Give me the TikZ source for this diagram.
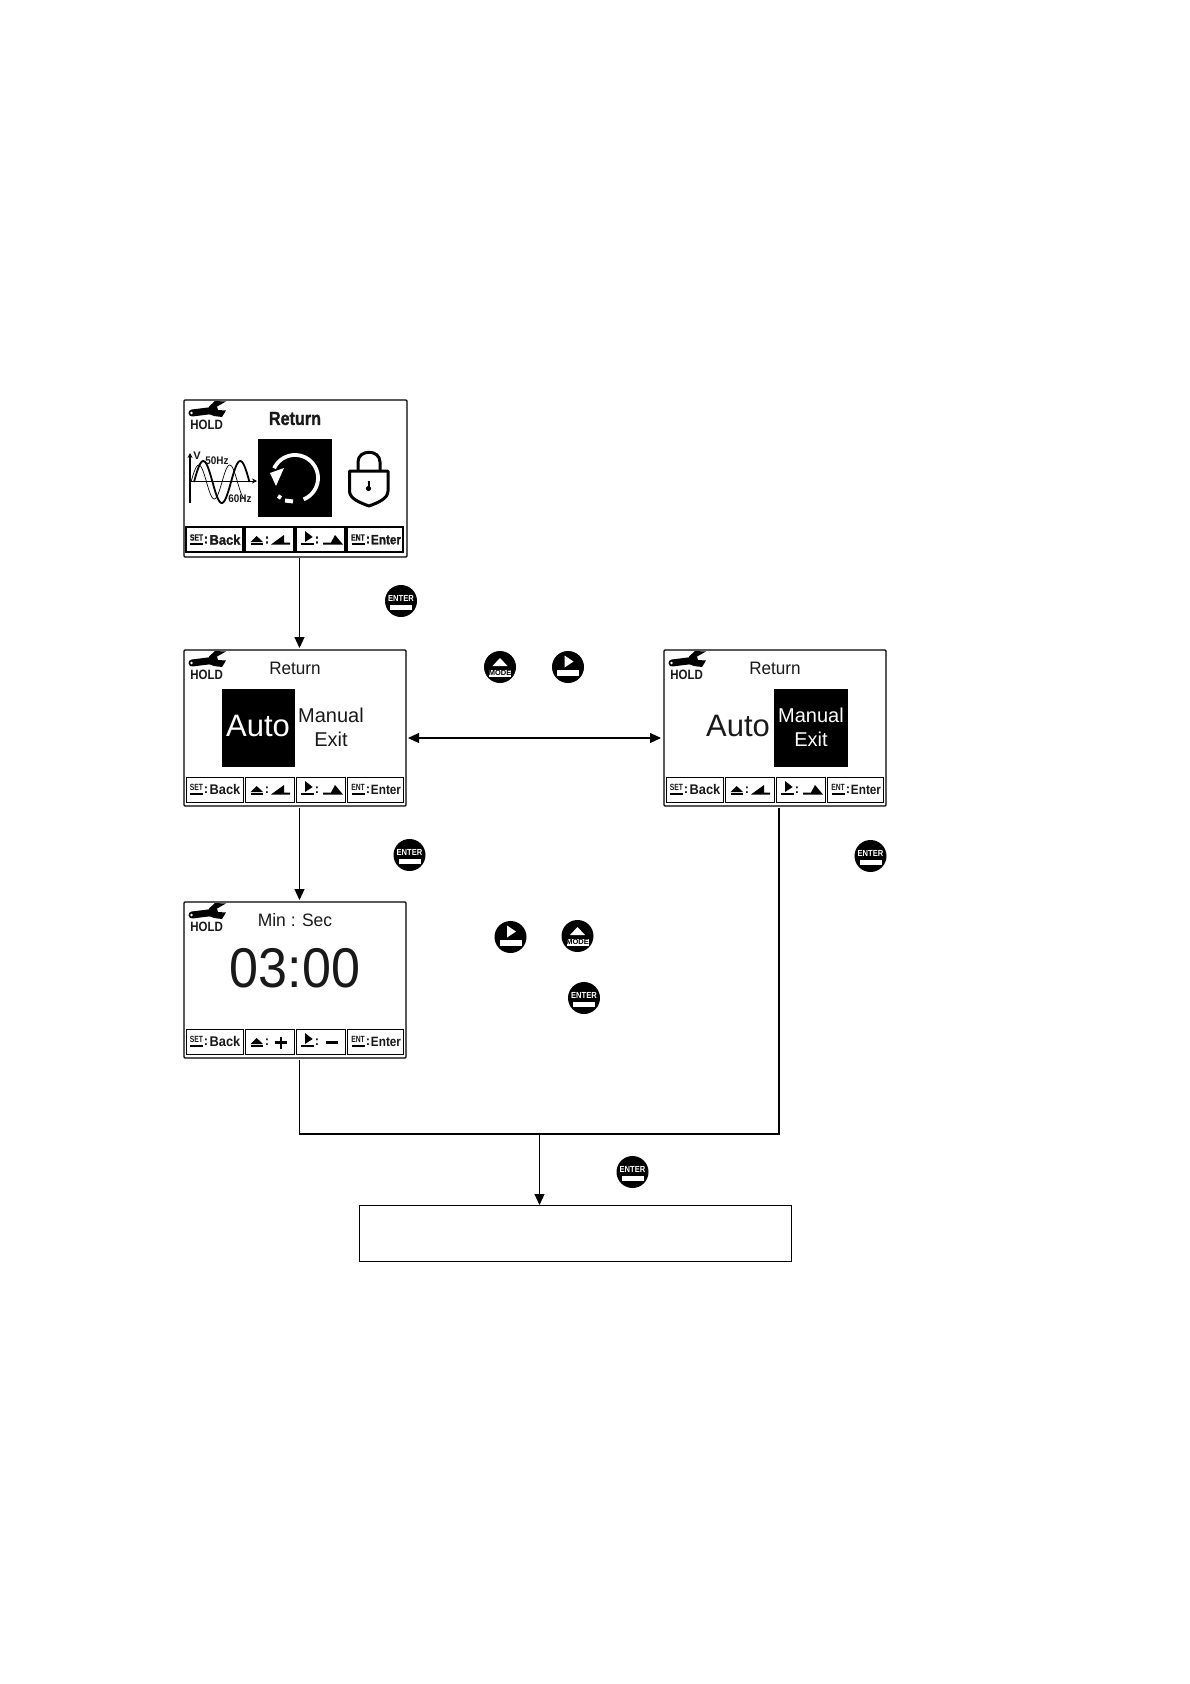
\documentclass[tikz,border=0pt]{standalone}
\usepackage{fontspec}
\setmainfont{Liberation Sans}
\newfontfamily\heavyfont[FakeBold=1.2]{Liberation Sans Bold}
\usetikzlibrary{arrows.meta}
\newcommand{\fs}[1]{\fontsize{#1}{#1}\selectfont}
\tikzset{
  x=1pt,y=-1pt,
  txt/.style={inner sep=0,outer sep=0,text=black!90},
  screenbox/.style={draw=black,line width=1.3pt,rounded corners=1pt,inner sep=0,outer sep=0,anchor=north west,fill=white},
  keybox/.style={draw=black,line width=0.7pt},
  conn/.style={draw=black,line width=1.1pt},
  arr/.style={conn,-{Triangle[length=11pt,width=10pt]}},
  darr/.style={conn,{Triangle[length=11pt,width=10pt]}-{Triangle[length=11pt,width=10pt]}},
  btn/.style={circle,fill=black,minimum size=32pt,inner sep=0,outer sep=0},
  flowbox/.style={draw=black,line width=1pt,inner sep=0,outer sep=0,anchor=north west,minimum width=432pt,minimum height=56pt},
}
% wrench + HOLD, in screen coordinates
\newcommand{\holdicon}{%
  \draw[line width=7pt,line cap=round] (8,13) -- (28,10.5);
  \fill (25,6.5) -- (31,1) -- (42,1.5) -- (33,6.5) -- (34,10) -- (42,10.5) -- (38,17) -- (30,16) -- (25,14) -- cycle;
  \fill[white] (7.5,13) circle[radius=1.3pt];
  \node[txt,font=\bfseries\fs{13.5}] at (22.7,25) {\scalebox{.85}[1]{HOLD}};
}
% soft keys: #1 = font for the words, #2 = line width, #3 = third and fourth drawing
\newcommand{\keys}[3]{%
  \draw[keybox,line width=#2] (2,127) rectangle (59,152);
  \draw[keybox,line width=#2] (61,127) rectangle (110,152);
  \draw[keybox,line width=#2] (112,127) rectangle (161,152);
  \draw[keybox,line width=#2] (163,127) rectangle (219,152);
  \node[txt,font=#1\fs{7.5}] at (12.5,137.5) {\scalebox{.9}[1.2]{SET}};
  \fill (6,143) rectangle (19,144.5);
  \node[txt,font=#1\fs{13}] at (22,140) {:};
  \node[txt,font=#1\fs{14}] at (41,139.7) {\scalebox{.92}[1]{Back}};
  \fill (66.5,142) -- (72.7,136) -- (78.9,142) -- cycle;
  \fill (66.5,143) rectangle (78.9,144.6);
  \node[txt,font=#1\fs{13}] at (83,140) {:};
  \fill (121,131) -- (128.7,137) -- (121,142) -- cycle;
  \fill (117,143) rectangle (130,144.6);
  \node[txt,font=#1\fs{13}] at (133,140) {:};
  \node[txt,font=#1\fs{7.5}] at (174,137.5) {\scalebox{.9}[1.2]{ENT}};
  \fill (168,143) rectangle (180.5,144.5);
  \node[txt,font=#1\fs{13}] at (184,140) {:};
  \node[txt,font=#1\fs{13.5}] at (202,139.7) {\scalebox{.87}[1]{Enter}};
  #3
}
\newcommand{\wedges}{%
  \fill (87,144.5) -- (100,135) -- (100,142.5) -- (106,142.5) -- (106,144.5) -- cycle;
  \fill (139,142.5) -- (147,142.5) -- (151,135) -- (159,144.5) -- (139,144.5) -- cycle;
}
\newcommand{\plusminus}{%
  \draw[line width=2.2pt] (91,140.5) -- (103,140.5) (97,134.5) -- (97,146.5);
  \draw[line width=2.2pt] (141.5,140.5) -- (154,140.5);
}
\newcommand{\enterbtn}[3]{%
  \node[btn] (#1) at (#2,#3) {};
  \node[txt,text=white,font=\bfseries\fs{8}] at (#2,#3-3) {\scalebox{.95}[1.1]{ENTER}};
  \fill[white] (#2-11,#3+3.5) rectangle (#2+11,#3+9);
}
\newcommand{\modebtn}[3]{%
  \node[btn] (#1) at (#2,#3) {};
  \fill[white] (#2-7.5,#3-1) -- (#2,#3-9) -- (#2+7.5,#3-1) -- cycle;
  \fill[white] (#2-11,#3+3) rectangle (#2+11,#3+9.5);
  \node[txt,text=black,font=\bfseries\fs{7.5}] at (#2,#3+6.3) {MODE};
}
\newcommand{\playbtn}[3]{%
  \node[btn] (#1) at (#2,#3) {};
  \fill[white] (#2-3.5,#3-11.5) -- (#2+5.5,#3-5.5) -- (#2-3.5,#3+.5) -- cycle;
  \fill[white] (#2-11,#3+3) rectangle (#2+11,#3+9);
}
\begin{document}
\begin{tikzpicture}
\useasboundingbox (0,0) rectangle (1190,1684);

% Screen 1
\node[screenbox,minimum width=223pt,minimum height=157pt] (s1) at (184,400) {};
\begin{scope}[shift={(184,400)}]
  \holdicon
  \keys{\heavyfont}{1.1pt}{\wedges}
\end{scope}
\node[txt,font=\heavyfont\fs{19}] (s1title) at (295,418.5) {\scalebox{.85}[1]{Return}};
\fill (258,439) rectangle (332,517);
\draw[white,line width=3.8pt] plot[smooth,domain=-155:68,samples=50] ({295+23*cos(\x)},{478+23*sin(\x)});
\fill[white] (270,473) -- (284,468) -- (276,486) -- cycle;
\draw[white,line width=4pt] (293,501.5) -- (285,500.5);
\draw[white,line width=4pt] (281,498) -- (278,496);
% wave
\draw[line width=1.3pt,-{Stealth[length=5pt,width=5pt]}] (190,503) -- (190,453);
\draw[line width=.8pt,-{Stealth[length=5pt,width=5pt]}] (190,481) -- (257,481);
\draw[line width=1.8pt] plot[domain=0:540,samples=60] ({194+\x/360*37},{482-21*sin(\x)});
\draw[line width=.7pt] plot[domain=0:640,samples=60] ({191+\x/360*31},{482-17*sin(\x)});
\node[txt,font=\bfseries\fs{11}] at (197,456) {V};
\node[txt,font=\bfseries\fs{11}] at (217,461) {\scalebox{.9}[1]{50Hz}};
\node[txt,font=\bfseries\fs{11}] at (240,499) {\scalebox{.9}[1]{60Hz}};
% lock
\draw[line width=3pt,line join=round] (349.5,471) -- (388,471) -- (388,491) .. controls (388,499) and (377,503) .. (369,506) .. controls (361,503) and (349.5,499) .. (349.5,491) -- cycle;
\draw[line width=3pt] (358,471) -- (358,462) .. controls (358,449) and (380,449) .. (380,462) -- (380,471);
\fill (368.5,488.5) circle[radius=2.6pt];
\draw[line width=2pt] (368.5,488) -- (368.5,481);

% Screen 2
\node[screenbox,minimum width=222pt,minimum height=156pt] (s2) at (184,650) {};
\begin{scope}[shift={(184,650)}]
  \holdicon
  \keys{\bfseries}{0.7pt}{\wedges}
\end{scope}
\node[txt,font=\fs{18}] (s2title) at (295,668.5) {\scalebox{.95}[1]{Return}};
\fill (222,689) rectangle (295,767);
\node[txt,text=white,font=\fs{31}] (s2auto) at (258,726) {Auto};
\node[txt,font=\fs{20}] (s2manual) at (331,715.5) {Manual};
\node[txt,font=\fs{20}] (s2exit) at (331,739) {Exit};

% Screen 3
\node[screenbox,minimum width=222pt,minimum height=156pt] (s3) at (184,902) {};
\begin{scope}[shift={(184,902)}]
  \holdicon
  \keys{\bfseries}{0.7pt}{\plusminus}
\end{scope}
\node[txt,font=\fs{18}] (s3title) at (295,920) {\scalebox{.97}[1]{Min : Sec}};
\node[txt,font=\fs{56}] (s3time) at (295,968.5) {\scalebox{.93}[1]{03:00}};

% Screen 4
\node[screenbox,minimum width=222pt,minimum height=156pt] (s4) at (664,650) {};
\begin{scope}[shift={(664,650)}]
  \holdicon
  \keys{\bfseries}{0.7pt}{\wedges}
\end{scope}
\node[txt,font=\fs{18}] (s4title) at (775,668.5) {\scalebox{.95}[1]{Return}};
\fill (774,689) rectangle (848,767);
\node[txt,font=\fs{31}] (s4auto) at (738,726) {Auto};
\node[txt,text=white,font=\fs{20}] (s4manual) at (811,715.5) {Manual};
\node[txt,text=white,font=\fs{20}] (s4exit) at (811,739) {Exit};

% Final box
\node[flowbox] (final) at (359,1205) {};

% Buttons
\enterbtn{b1}{401}{601}
\modebtn{b2}{500}{667}
\playbtn{b3}{568}{667}
\enterbtn{b4}{409.5}{855}
\enterbtn{b5}{870.5}{856}
\playbtn{b6}{510.5}{937}
\modebtn{b7}{577.5}{936}
\enterbtn{b8}{584}{998}
\enterbtn{b9}{632.5}{1172}

% Connectors
\draw[arr,shorten <=1pt,shorten >=2pt] ([xshift=4pt]s1.south) -- ([xshift=4.5pt]s2.north);
\draw[arr,shorten <=2pt,shorten >=2pt] ([xshift=4.5pt]s2.south) -- ([xshift=4.5pt]s3.north);
\draw[darr,shorten <=2pt,shorten >=3pt] ([yshift=-10pt]s2.east) -- ([yshift=-10pt]s4.west);
\coordinate (j) at (539.5,1134);
\draw[conn,shorten <=2pt] ([xshift=4.5pt]s3.south) |- (j);
\draw[conn,shorten <=2pt] ([xshift=4pt]s4.south) |- (j);
\draw[arr] (j) -- (j |- final.north);
\end{tikzpicture}
\end{document}
